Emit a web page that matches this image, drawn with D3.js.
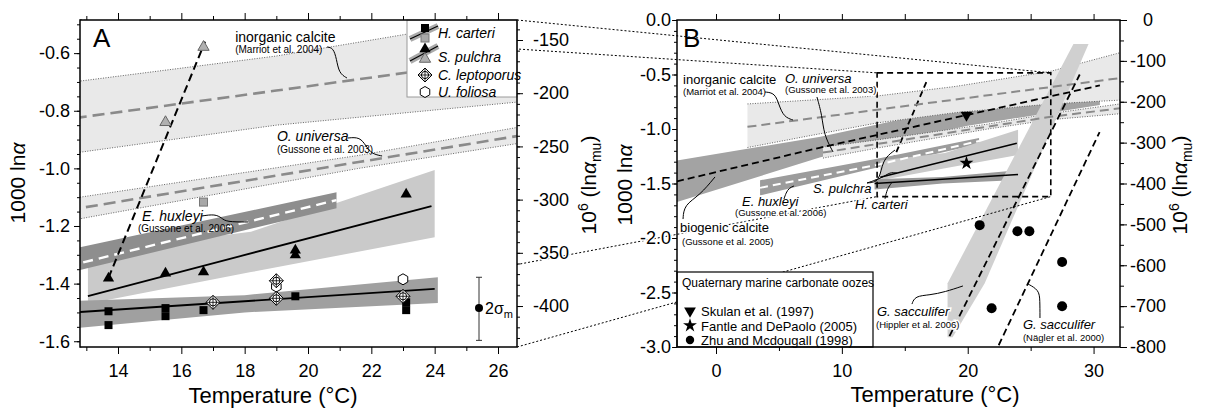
<!DOCTYPE html>
<html>
<head>
<meta charset="utf-8">
<script src="https://cdn.jsdelivr.net/npm/d3@7"></script>
<style>
  body { margin: 0; background: #fff; }
  svg { font-family: "Liberation Sans", Arial, Helvetica, sans-serif; }
</style>
</head>
<body>
<svg id="chart" width="1210" height="410"></svg>
<script>
// regression bands, [T (degC), lower, centre, upper] in 1000 ln(alpha)
const inorganicBand = [[2.5,-1.17,-0.98,-0.77],[12.8,-0.944,-0.823,-0.697],[19,-0.85,-0.73,-0.61],[26.6,-0.77,-0.615,-0.47],[32.1,-0.735,-0.533,-0.30]];
const universaBand = [[8.5,-1.267,-1.216,-1.166],[12.8,-1.175,-1.138,-1.10],[21.6,-1.0,-0.978,-0.955],[26.6,-0.914,-0.888,-0.858],[32.1,-0.86,-0.81,-0.77]];
const biogenicBand = [[-3.1,-1.67,-1.48,-1.29],[8.3,-1.26,-1.17,-1.07],[20,-0.97,-0.87,-0.78],[30.5,-0.78,-0.60,-0.47]];
const huxleyiBand = [[3.5,-1.61,-1.54,-1.47],[12.8,-1.353,-1.329,-1.274],[20.9,-1.138,-1.11,-1.083]];
// [T, lower, upper]
const pulchraBand = [[13.05,-1.47,-1.29],[18.2,-1.36,-1.22],[24,-1.239,-1.006]];
const carteriBand = [[12.6,-1.555,-1.46],[18,-1.50,-1.44],[24.1,-1.467,-1.378]];
const hipplerBand = [[18.4,-2.91],[18.4,-2.415],[28.4,-0.22],[29.6,-0.22],[21.35,-2.415],[18.8,-2.91]];

// fitted lines [T, 1000 ln(alpha)]
const pulchraFit = [[13.05,-1.443],[23.9,-1.131]];
const carteriFit = [[12.6,-1.50],[24.0,-1.418]];
const pulchraSteep = [[13.7,-1.38],[16.75,-0.56]];
const hipplerFit = [[18.55,-2.9],[28.9,-0.5]];
const naeglerFit = [[22.46,-2.984],[30.48,-1.028]];

// measurements, panel A
const carteriPts = [[13.7,-1.496],[13.7,-1.544],[15.5,-1.485],[15.5,-1.513],[16.7,-1.492],[19.6,-1.444],[23.1,-1.465],[23.1,-1.492]];
const carteriGray = [[16.7,-1.117]];
const pulchraPts = [[13.7,-1.381],[15.5,-1.364],[16.7,-1.36],[19.6,-1.284],[19.6,-1.301],[23.1,-1.09]];
const pulchraGray = [[15.5,-0.84],[16.7,-0.579]];
const leptoporusPts = [[17.0,-1.465],[19.0,-1.39],[19.0,-1.451],[23.0,-1.444]];
const foliosaPts = [[19.0,-1.41],[23.0,-1.385]];
const errorBar = [25.4,-1.485,-1.378,-1.597];

// Quaternary oozes, panel B
const skulanPts = [[19.9,-0.872]];
const fantlePts = [[19.9,-1.313]];
const zhuPts = [[20.95,-1.882],[23.95,-1.938],[24.9,-1.938],[27.5,-2.22],[21.9,-2.645],[27.5,-2.626]];

// ticks
const xTicksA = [14,16,18,20,22,24,26];
const xMinorA = [13,15,17,19,21,23,25];
const yTicksA = [-1.6,-1.4,-1.2,-1.0,-0.8,-0.6];
const yMuTicksA = [-400,-350,-300,-250,-200,-150];
const xTicksB = [0,10,20,30];
const xMinorB = [5,15,25];
const yTicksB = [-3.0,-2.5,-2.0,-1.5,-1.0,-0.5,0.0];
const yMuTicksB = [-800,-700,-600,-500,-400,-300,-200,-100,0];

const svg = d3.select("#chart");
const A = { left: 80, right: 517, top: 20, bottom: 347 };
const B = { left: 677, right: 1120, top: 20, bottom: 347 };

const xA = d3.scaleLinear().domain([12.8, 26.6]).range([A.left, A.right]);
const yA = d3.scaleLinear().domain([-1.62, -0.485]).range([A.bottom, A.top]);
const yAmu = d3.scaleLinear().domain([-438.5, -131.2]).range([A.bottom, A.top]);
const xB = d3.scaleLinear().domain([-3.1, 32.1]).range([B.left, B.right]);
const yB = d3.scaleLinear().domain([-3, 0]).range([B.bottom, B.top]);
const yBmu = d3.scaleLinear().domain([-800, 0]).range([B.bottom, B.top]);

const defs = svg.append("defs");
[["clipA", A], ["clipB", B]].forEach(([id, p]) => {
  defs.append("clipPath").attr("id", id).append("rect")
    .attr("x", p.left).attr("y", p.top).attr("width", p.right - p.left).attr("height", p.bottom - p.top);
});

const bandArea = (x, y) => d3.area().x(d => x(d[0])).y0(d => y(d[1])).y1(d => y(d[d.length - 1]));
const bandLine = (x, y, i) => d3.line().x(d => x(d[0])).y(d => y(d[i]));
const fitLine = (x, y) => d3.line().x(d => x(d[0])).y(d => y(d[1]));

function dottedBand(g, data, x, y) {
  g.append("path").datum(data).attr("d", bandArea(x, y)).attr("fill", "#e9e9e9");
  [1, 3].forEach(i => g.append("path").datum(data).attr("d", bandLine(x, y, i))
    .attr("fill", "none").attr("stroke", "#555").attr("stroke-width", 0.9).attr("stroke-dasharray", "1,1.5"));
}
function solidBand(g, data, x, y, fill) {
  g.append("path").datum(data).attr("d", bandArea(x, y)).attr("fill", fill);
}
function path(g, data, gen, stroke, w, dash) {
  return g.append("path").datum(data).attr("d", gen).attr("fill", "none")
    .attr("stroke", stroke).attr("stroke-width", w).attr("stroke-dasharray", dash || null);
}
const curve = (x, y) => d3.line().x(d => x(d[0])).y(d => y(d[1])).curve(d3.curveBasis);

function label(g, x, y, T, v, txt, size, italic) {
  return g.append("text").attr("x", x(T)).attr("y", y(v)).attr("font-size", size)
    .attr("font-style", italic ? "italic" : null).text(txt);
}
function halo(sel) {
  sel.attr("stroke", "#fff").attr("stroke-width", 3).attr("paint-order", "stroke");
}

// ---------- symbols ----------
const hexPath = r => d3.range(6).map(i => {
  const a = Math.PI / 6 + i * Math.PI / 3;
  return [r * Math.cos(a), r * Math.sin(a)];
});
function sym(g, kind, cx, cy) {
  const s = g.append("g").attr("transform", `translate(${cx},${cy})`);
  if (kind === "sq") s.append("rect").attr("x", -4).attr("y", -4).attr("width", 8).attr("height", 8).attr("fill", "#000");
  if (kind === "sqGray") s.append("rect").attr("x", -4).attr("y", -4).attr("width", 8).attr("height", 8).attr("fill", "#a8a8a8").attr("stroke", "#777");
  if (kind === "tri") s.append("path").attr("d", d3.symbol(d3.symbolTriangle, 55)).attr("fill", "#000");
  if (kind === "triGray") s.append("path").attr("d", d3.symbol(d3.symbolTriangle, 55)).attr("fill", "#b0b0b0").attr("stroke", "#666");
  if (kind === "lepto") {
    s.append("path").attr("d", "M0,-7L7,0L0,7L-7,0Z").attr("fill", "#fff").attr("stroke", "#000");
    s.append("circle").attr("r", 3.6).attr("fill", "#fff").attr("stroke", "#000");
    s.append("path").attr("d", "M-7,0H7M0,-7V7").attr("stroke", "#000").attr("stroke-width", 0.8);
  }
  if (kind === "hex") s.append("path").attr("d", d3.line()(hexPath(5.5)) + "Z").attr("fill", "#fff").attr("stroke", "#000");
  if (kind === "down") s.append("path").attr("d", d3.symbol(d3.symbolTriangle, 60)).attr("transform", "rotate(180)").attr("fill", "#000");
  if (kind === "star") s.append("path").attr("d", d3.symbol(d3.symbolStar, 60)).attr("fill", "#000");
  if (kind === "dot") s.append("circle").attr("r", 5).attr("fill", "#000");
  return s;
}

// ---------- axes ----------
function styleAxis(g, size) {
  g.select(".domain").remove();
  g.attr("font-size", size).attr("font-family", null);
  g.selectAll("text").attr("fill", "#000");
  g.selectAll("line").attr("stroke", "#000");
  halo(g.selectAll("text"));
}
const fmt1 = d => d.toFixed(1);
const fmt0 = d => String(d);

// ================= PANEL B, back layer =================
const gBb = svg.append("g").attr("clip-path", "url(#clipB)");
solidBand(gBb, biogenicBand, xB, yB, "#a3a3a3");
dottedBand(gBb, inorganicBand, xB, yB);
dottedBand(gBb, universaBand, xB, yB);
path(gBb, pulchraSteep, fitLine(xB, yB), "#000", 1.8, "6,4");
solidBand(gBb, huxleyiBand, xB, yB, "#9c9c9c");
solidBand(gBb, pulchraBand, xB, yB, "#cacaca");
solidBand(gBb, carteriBand, xB, yB, "#9a9a9a");
gBb.append("path").attr("d", fitLine(xB, yB)(hipplerBand) + "Z").attr("fill", "#d0d0d0");

// connectors from panel A corners to the zoom box in panel B
const cornersA = [[xA.domain()[0], yA.domain()[1]], [xA.domain()[1], yA.domain()[1]], [xA.domain()[0], yA.domain()[0]], [xA.domain()[1], yA.domain()[0]]];
svg.append("g").selectAll("line").data(cornersA).join("line")
  .attr("x1", d => xA(d[0])).attr("y1", d => yA(d[1]))
  .attr("x2", d => xB(d[0])).attr("y2", d => yB(d[1]))
  .attr("stroke", "#000").attr("stroke-width", 1).attr("stroke-dasharray", "2,2");

// ================= PANEL A =================
const gA = svg.append("g");
gA.append("rect").attr("x", A.left).attr("y", A.top).attr("width", A.right - A.left).attr("height", A.bottom - A.top).attr("fill", "#fff");
const gAc = gA.append("g").attr("clip-path", "url(#clipA)");
dottedBand(gAc, inorganicBand, xA, yA);
dottedBand(gAc, universaBand, xA, yA);
solidBand(gAc, pulchraBand, xA, yA, "#cacaca");
solidBand(gAc, huxleyiBand, xA, yA, "#8e8e8e");
solidBand(gAc, carteriBand, xA, yA, "#a0a0a0");
path(gAc, inorganicBand, bandLine(xA, yA, 2), "#8a8a8a", 2.6, "12,6");
path(gAc, universaBand, bandLine(xA, yA, 2), "#8a8a8a", 2.6, "12,6");
path(gAc, huxleyiBand, bandLine(xA, yA, 2), "#fff", 2.4, "10,6");
path(gAc, pulchraFit, fitLine(xA, yA), "#000", 1.8);
path(gAc, carteriFit, fitLine(xA, yA), "#000", 1.8);
path(gAc, pulchraSteep, fitLine(xA, yA), "#000", 2, "8,4.5");

// points
carteriPts.forEach(d => sym(gA, "sq", xA(d[0]), yA(d[1])));
carteriGray.forEach(d => sym(gA, "sqGray", xA(d[0]), yA(d[1])));
pulchraPts.forEach(d => sym(gA, "tri", xA(d[0]), yA(d[1])));
pulchraGray.forEach(d => sym(gA, "triGray", xA(d[0]), yA(d[1])));
foliosaPts.forEach(d => sym(gA, "hex", xA(d[0]), yA(d[1])));
leptoporusPts.forEach(d => sym(gA, "lepto", xA(d[0]), yA(d[1])));

// 2 sigma error bar
const eb = gA.append("g").attr("stroke", "#333");
eb.append("line").attr("x1", xA(errorBar[0])).attr("x2", xA(errorBar[0])).attr("y1", yA(errorBar[2])).attr("y2", yA(errorBar[3]));
[2, 3].forEach(i => eb.append("line").attr("x1", xA(errorBar[0]) - 3).attr("x2", xA(errorBar[0]) + 3).attr("y1", yA(errorBar[i])).attr("y2", yA(errorBar[i])));
gA.append("circle").attr("cx", xA(errorBar[0])).attr("cy", yA(errorBar[1])).attr("r", 4).attr("fill", "#000");
const sig = gA.append("text").attr("x", xA(errorBar[0]) + 6).attr("y", yA(errorBar[1]) + 6).attr("font-size", 16);
sig.append("tspan").text("2σ");
sig.append("tspan").attr("font-size", 11).attr("dy", 4).text("m");

// labels A
label(gA, xA, yA, 13.21, -0.5787, "A", 26);
label(gA, xA, yA, 17.70, -0.5614, "inorganic calcite", 14);
label(gA, xA, yA, 17.70, -0.5995, "(Marriot et al. 2004)", 10);
path(gA, [[20.60,-0.5787],[20.80,-0.582],[20.90,-0.62],[20.98,-0.67],[21.23,-0.6863]], curve(xA, yA), "#000", 1);
label(gA, xA, yA, 19.02, -0.905, "O. universa", 14, true);
label(gA, xA, yA, 19.02, -0.9466, "(Gussone et al. 2003)", 10);
path(gA, [[21.26,-0.8946],[21.64,-0.891],[21.83,-0.9223],[22.02,-0.950],[22.34,-0.957]], curve(xA, yA), "#000", 1);
label(gA, xA, yA, 14.76, -1.1827, "E. huxleyi", 14, true);
label(gA, xA, yA, 14.63, -1.221, "(Gussone et al. 2006)", 10);
path(gA, [[16.65,-1.1653],[17.06,-1.1584],[17.28,-1.1723],[17.41,-1.186],[18.11,-1.186]], curve(xA, yA), "#000", 1);

// legend A
const legA = gA.append("g");
legA.append("rect").attr("x", 407).attr("y", A.top).attr("width", A.right - 407).attr("height", 77)
  .attr("fill", "#fff").attr("stroke", "#9a9a9a");
const legendNames = ["H. carteri", "S. pulchra", "C. leptoporus", "U. foliosa"];
const legendY = [33, 57, 75, 92];
legendNames.forEach((n, i) => legA.append("text").attr("x", 438).attr("y", legendY[i] + 4.5)
  .attr("font-size", 14).attr("font-style", "italic").text(n));
[[39, 26], [61, 46]].forEach(([y1, y2]) => {
  legA.append("line").attr("x1", 410).attr("x2", 438).attr("y1", y1).attr("y2", y2).attr("stroke", "#aaa").attr("stroke-width", 6);
  legA.append("line").attr("x1", 410).attr("x2", 438).attr("y1", y1).attr("y2", y2).attr("stroke", "#000").attr("stroke-width", 1.2);
});
sym(legA, "sq", 425, 28); sym(legA, "sqGray", 425, 38);
sym(legA, "tri", 425, 49); sym(legA, "triGray", 425, 59);
sym(legA, "lepto", 425, 75); sym(legA, "hex", 425, 92);

// axes A
const axA = gA.append("g");
styleAxis(axA.append("g").attr("transform", `translate(0,${A.bottom})`)
  .call(d3.axisBottom(xA).tickValues(xTicksA).tickSize(7).tickPadding(10).tickFormat(fmt0)), 18);
styleAxis(axA.append("g").attr("transform", `translate(0,${A.bottom})`)
  .call(d3.axisBottom(xA).tickValues(xMinorA).tickSize(4).tickFormat("")), 18);
styleAxis(axA.append("g").attr("transform", `translate(0,${A.top})`)
  .call(d3.axisTop(xA).tickValues(xTicksA).tickSize(7).tickFormat("")), 18);
styleAxis(axA.append("g").attr("transform", `translate(0,${A.top})`)
  .call(d3.axisTop(xA).tickValues(xMinorA).tickSize(4).tickFormat("")), 18);
styleAxis(axA.append("g").attr("transform", `translate(${A.left},0)`)
  .call(d3.axisLeft(yA).tickValues(yTicksA).tickSize(6).tickPadding(4).tickFormat(fmt1)), 18);
styleAxis(axA.append("g").attr("transform", `translate(${A.left},0)`)
  .call(d3.axisLeft(yA).tickValues(d3.range(-32, -9).map(i => i * 0.05)).tickSize(3).tickFormat("")), 18);
styleAxis(axA.append("g").attr("transform", `translate(${A.right},0)`)
  .call(d3.axisRight(yAmu).tickValues(yMuTicksA).tickSize(6).tickPadding(10).tickFormat(fmt0)), 18);
styleAxis(axA.append("g").attr("transform", `translate(${A.right},0)`)
  .call(d3.axisRight(yAmu).tickValues(d3.range(-43, -13).map(i => i * 10)).tickSize(3).tickFormat("")), 18);
axA.append("rect").attr("x", A.left).attr("y", A.top).attr("width", A.right - A.left).attr("height", A.bottom - A.top)
  .attr("fill", "none").attr("stroke", "#000").attr("stroke-width", 1.5);

// ================= PANEL B, front layer =================
const gBf = svg.append("g").attr("clip-path", "url(#clipB)");
path(gBf, inorganicBand, bandLine(xB, yB, 2), "#8a8a8a", 2, "9,5");
path(gBf, universaBand, bandLine(xB, yB, 2), "#8a8a8a", 2, "9,5");
path(gBf, biogenicBand, bandLine(xB, yB, 2), "#000", 1.8, "7,4");
path(gBf, huxleyiBand, bandLine(xB, yB, 2), "#fff", 2, "8,5");
path(gBf, pulchraFit, fitLine(xB, yB), "#000", 1.5);
path(gBf, carteriFit, fitLine(xB, yB), "#000", 1.5);
path(gBf, hipplerFit, fitLine(xB, yB), "#000", 1.8, "7,4");
path(gBf, naeglerFit, fitLine(xB, yB), "#000", 1.8, "7,4");
// zoom box = extent of panel A
gBf.append("rect").attr("x", xB(xA.domain()[0])).attr("y", yB(yA.domain()[1]))
  .attr("width", xB(xA.domain()[1]) - xB(xA.domain()[0])).attr("height", yB(yA.domain()[0]) - yB(yA.domain()[1]))
  .attr("fill", "none").attr("stroke", "#000").attr("stroke-width", 1.6).attr("stroke-dasharray", "6,4");
skulanPts.forEach(d => sym(gBf, "down", xB(d[0]), yB(d[1])));
fantlePts.forEach(d => sym(gBf, "star", xB(d[0]), yB(d[1])));
zhuPts.forEach(d => sym(gBf, "dot", xB(d[0]), yB(d[1])));

// labels B
const gBl = svg.append("g");
label(gBl, xB, yB, -2.62, -0.248, "B", 26);
halo(label(gBl, xB, yB, -2.62, -0.587, "inorganic calcite", 13));
halo(label(gBl, xB, yB, -2.62, -0.688, "(Marriot et al. 2004)", 9.5));
path(gBl, [[3.89,-0.6606],[4.69,-0.6697],[5.0,-0.78],[5.4,-0.89],[6.11,-0.917]], curve(xB, yB), "#000", 1);
halo(label(gBl, xB, yB, 5.48, -0.578, "O. universa", 13, true));
halo(label(gBl, xB, yB, 5.48, -0.6697, "(Gussone et al. 2003)", 9.5));
path(gBl, [[8.02,-0.7064],[8.42,-0.8716],[8.58,-1.055],[9.30,-1.211]], curve(xB, yB), "#000", 1);
halo(label(gBl, xB, yB, 2.065, -1.706, "E. huxleyi", 13, true));
halo(label(gBl, xB, yB, 1.51, -1.798, "(Gussone et al. 2006)", 9.5));
path(gBl, [[5.40,-1.642],[5.56,-1.587],[5.80,-1.541],[6.20,-1.523]], curve(xB, yB), "#000", 1);
halo(label(gBl, xB, yB, -2.86, -1.945, "biogenic calcite", 13));
halo(label(gBl, xB, yB, -2.70, -2.064, "(Gussone et al. 2005)", 9.5));
path(gBl, [[-2.62,-1.826],[-2.54,-1.697],[-1.27,-1.606],[-0.08,-1.44]], curve(xB, yB), "#000", 1);
halo(label(gBl, xB, yB, 7.7, -1.585, "S. pulchra", 13, true));
path(gBl, [[12.0,-1.495],[13.03,-1.486],[13.19,-1.284],[14.22,-1.193]], curve(xB, yB), "#000", 1);
path(gBl, [[12.0,-1.495],[13.19,-1.45],[13.83,-1.394],[14.38,-1.405]], curve(xB, yB), "#000", 1);
halo(label(gBl, xB, yB, 11.04, -1.73, "H. carteri", 13, true));
path(gBl, [[13.43,-1.64],[13.59,-1.55],[13.98,-1.49]], curve(xB, yB), "#000", 1);
halo(label(gBl, xB, yB, 12.79, -2.716, "G. sacculifer", 13, true));
halo(label(gBl, xB, yB, 12.71, -2.826, "(Hippler et al. 2006)", 9.5));
path(gBl, [[15.57,-2.606],[15.81,-2.532],[17.0,-2.523],[18.19,-2.495],[19.62,-2.44]], curve(xB, yB), "#000", 1);
halo(label(gBl, xB, yB, 24.39, -2.835, "G. sacculifer", 13, true));
halo(label(gBl, xB, yB, 24.39, -2.945, "(Nägler et al. 2000)", 9.5));
path(gBl, [[25.74,-2.734],[25.74,-2.569],[25.66,-2.477],[24.79,-2.422]], curve(xB, yB), "#000", 1);

// legend B
const legB = svg.append("g");
legB.append("rect").attr("x", B.left).attr("y", 272).attr("width", 196).attr("height", B.bottom - 272)
  .attr("fill", "#fff").attr("stroke", "#000").attr("stroke-width", 1.2);
legB.append("text").attr("x", 682).attr("y", 287).attr("font-size", 12).text("Quaternary marine carbonate oozes");
const oozeNames = ["Skulan et al. (1997)", "Fantle and DePaolo (2005)", "Zhu and Mcdougall (1998)"];
const oozeKinds = ["down", "star", "dot"];
oozeNames.forEach((n, i) => {
  const yy = 311 + i * 14.5;
  const s = sym(legB, oozeKinds[i], 690, yy);
  if (oozeKinds[i] === "dot") s.select("circle").attr("r", 4.2);
  legB.append("text").attr("x", 701).attr("y", yy + 5).attr("font-size", 13).text(n);
});

// axes B
const axB = svg.append("g");
styleAxis(axB.append("g").attr("transform", `translate(0,${B.bottom})`)
  .call(d3.axisBottom(xB).tickValues(xTicksB).tickSize(7).tickPadding(10).tickFormat(fmt0)), 18);
styleAxis(axB.append("g").attr("transform", `translate(0,${B.bottom})`)
  .call(d3.axisBottom(xB).tickValues(xMinorB).tickSize(4).tickFormat("")), 18);
styleAxis(axB.append("g").attr("transform", `translate(0,${B.top})`)
  .call(d3.axisTop(xB).tickValues(xTicksB.concat(xMinorB)).tickSize(6).tickFormat("")), 18);
styleAxis(axB.append("g").attr("transform", `translate(${B.left},0)`)
  .call(d3.axisLeft(yB).tickValues(yTicksB).tickSize(5).tickPadding(1).tickFormat(fmt1)), 18);
styleAxis(axB.append("g").attr("transform", `translate(${B.left},0)`)
  .call(d3.axisLeft(yB).tickValues(d3.range(-30, 1).map(i => i / 10)).tickSize(3).tickFormat("")), 18);
const rB = axB.append("g").attr("transform", `translate(${B.right},0)`)
  .call(d3.axisRight(yBmu).tickValues(yMuTicksB).tickSize(7).tickPadding(3).tickFormat(fmt0));
styleAxis(rB, 18);
rB.selectAll("text").attr("text-anchor", "middle").attr("x", 28);
styleAxis(axB.append("g").attr("transform", `translate(${B.right},0)`)
  .call(d3.axisRight(yBmu).tickValues(d3.range(-16, 1).map(i => i * 50)).tickSize(4).tickFormat("")), 18);
axB.append("rect").attr("x", B.left).attr("y", B.top).attr("width", B.right - B.left).attr("height", B.bottom - B.top)
  .attr("fill", "none").attr("stroke", "#000").attr("stroke-width", 1.5);

// axis titles
function lnTitle(x, y) {
  const t = svg.append("text").attr("transform", `translate(${x},${y}) rotate(-90)`)
    .attr("text-anchor", "middle").attr("font-size", 21);
  t.append("tspan").text("1000 ln");
  t.append("tspan").attr("font-style", "italic").text("α");
}
function muTitle(x, y) {
  const t = svg.append("text").attr("transform", `translate(${x},${y}) rotate(-90)`)
    .attr("text-anchor", "middle").attr("font-size", 21);
  t.append("tspan").text("10");
  t.append("tspan").attr("font-size", 14).attr("dy", -8).text("6");
  t.append("tspan").attr("dy", 8).text(" (ln");
  t.append("tspan").attr("font-style", "italic").text("α");
  t.append("tspan").attr("font-size", 14).attr("dy", 5).text("mu");
  t.append("tspan").attr("dy", -5).text(")");
}
lnTitle(25, 183);
muTitle(596, 185);
lnTitle(632, 185);
muTitle(1187, 185);
svg.append("text").attr("x", 273).attr("y", 403).attr("text-anchor", "middle").attr("font-size", 22).text("Temperature (°C)");
svg.append("text").attr("x", 935).attr("y", 402).attr("text-anchor", "middle").attr("font-size", 22).text("Temperature (°C)");
</script>
</body>
</html>
